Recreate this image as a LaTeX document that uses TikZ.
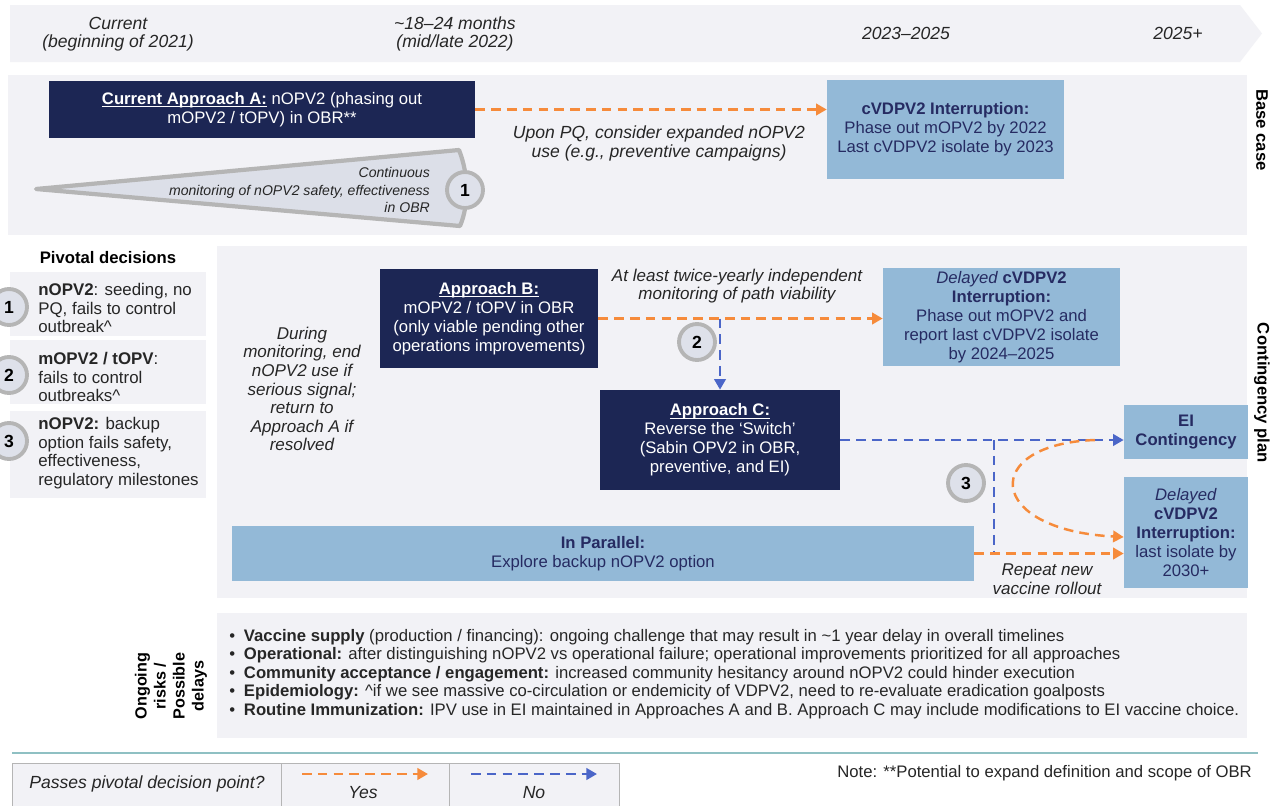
\documentclass[tikz,border=0pt]{standalone}
\usepackage{fontspec}
\setmainfont{Liberation Sans}
\usetikzlibrary{arrows.meta, positioning, calc}
\definecolor{pvNavy}{HTML}{1C2654}
\definecolor{pvSky}{HTML}{93B9D7}
\definecolor{pvInk}{HTML}{262B62}
\definecolor{pvOrange}{HTML}{F68B3B}
\definecolor{pvBlue}{HTML}{4B66C8}
\definecolor{pvPanel}{HTML}{F2F2F6}
\definecolor{pvRing}{HTML}{B5B5B5}
\definecolor{pvDisc}{HTML}{DEE1EA}
\definecolor{pvWedge}{HTML}{DCDFE8}
\definecolor{pvTeal}{HTML}{8FC0C3}
\newcommand{\pvul}[1]{\setbox0\hbox{#1}\rlap{\rule[-1.7pt]{\wd0}{0.6pt}}\box0\relax}

\begin{document}
\begin{tikzpicture}[x=0.02cm, y=-0.02cm,
  navybox/.style={fill=pvNavy, text=white, align=center, inner sep=0pt, font=\fontsize{9.5}{10.8}\selectfont},
  skybox/.style={fill=pvSky, text=pvInk, align=center, inner sep=0pt, font=\fontsize{9.5}{10.8}\selectfont},
  remark/.style={align=center, text=black!85, font=\fontsize{9.7}{10.6}\selectfont\itshape},
  milestone/.style={align=center, text=black!85, font=\fontsize{10}{10.4}\selectfont\itshape},
  pvdisc/.style={circle, fill=pvDisc, draw=pvRing, line width=2.2pt, minimum size=0.72cm, inner sep=0pt, font=\fontsize{10}{12}\selectfont\bfseries},
  yesline/.style={pvOrange, line width=1.4pt, dash pattern=on 5.5pt off 3.5pt, -{Triangle[length=6pt,width=6.5pt]}},
  noline/.style={pvBlue, line width=1.4pt, dash pattern=on 5.5pt off 3.5pt, -{Triangle[length=6pt,width=6.5pt]}},
  sidetag/.style={align=center, text=black, font=\fontsize{9.5}{10.8}\selectfont\bfseries},
  decision/.style={anchor=west, align=left, inner sep=0pt, text=black!85, font=\fontsize{9.6}{10.6}\selectfont}
]
  % ramka
  \useasboundingbox (0,0) rectangle (1284,805);
  \clip (0,0) rectangle (1284,805);
  \fill[white] (0,0) rectangle (1284,805);
  % os czasu
  \fill[pvPanel] (10,5) -- (1240,5) -- (1262,33.5) -- (1240,62) -- (10,62) -- cycle;
  \node[milestone] (t1) at (118,34) {Current\\(beginning of 2021)};
  \node[milestone] (t2) at (455,34) {\textasciitilde18–24 months\\(mid/late 2022)};
  \node[milestone] (t3) at (906,33) {2023–2025};
  \node[milestone] (t4) at (1178,33) {2025+};
  % panel bazowy
  \fill[pvPanel] (8,75) rectangle (1247,235);
  \node[sidetag, rotate=-90] (tagBase) at (1262,130) {Base case};
  \node[navybox, minimum width=8.52cm, minimum height=1.14cm] (appA) at (262,109.5)
    {\pvul{\textbf{Current Approach A:}} nOPV2 (phasing out\\mOPV2 / tOPV) in OBR**};
  \node[skybox, minimum width=4.74cm, minimum height=1.98cm] (interA) at (945.5,129.5)
    {\textbf{cVDPV2 Interruption:}\\Phase out mOPV2 by 2022\\Last cVDPV2 isolate by 2023};
  \draw[yesline] (appA.east) -- (appA.east -| interA.west);
  \node[remark, font=\fontsize{10}{10.8}\selectfont\itshape] (pq) at (659,143.5)
    {Upon PQ, consider expanded nOPV2\\use (e.g., preventive campaigns)};
  % klin monitoringu
  \filldraw[fill=pvWedge, draw=pvRing, line width=2.4pt, line join=round]
    (36,189) -- (459,150) .. controls (469,175) and (469,205) .. (460,226) -- cycle;
  \node[anchor=east, align=right, text=black!85, font=\fontsize{8}{10}\selectfont\itshape] (mon) at (436,190)
    {Continuous\\monitoring of nOPV2 safety, effectiveness\\in OBR};
  \node[pvdisc] (dec1) at (465,190) {1};
  % decyzje kluczowe
  \node[sidetag, font=\fontsize{9.5}{11}\selectfont\bfseries] (pdHead) at (108,258) {Pivotal decisions};
  \fill[pvPanel] (10,272) rectangle (206,336);
  \fill[pvPanel] (10,340) rectangle (206,404);
  \fill[pvPanel] (10,411) rectangle (206,498);
  \node[decision] (pdText1) at (38,308) {\textbf{nOPV2}: seeding, no\\PQ, fails to control\\outbreak\textasciicircum};
  \node[decision] (pdText2) at (38,377) {\textbf{mOPV2 / tOPV}:\\fails to control\\outbreaks\textasciicircum};
  \node[decision] (pdText3) at (38,453) {\textbf{nOPV2:} backup\\option fails safety,\\effectiveness,\\regulatory milestones};
  \node[pvdisc] (pd1) at (9,307) {1};
  \node[pvdisc] (pd2) at (9,375) {2};
  \node[pvdisc] (pd3) at (9,441) {3};
  % plan awaryjny
  \fill[pvPanel] (217,246) rectangle (1247,598);
  \node[sidetag, rotate=-90] (tagCont) at (1262,393) {Contingency plan};
  \node[remark] (during) at (302,389)
    {During\\monitoring, end\\nOPV2 use if\\serious signal;\\return to\\Approach A if\\resolved};
  \node[navybox, minimum width=4.36cm, minimum height=1.98cm] (appB) at (489,318.5)
    {\pvul{\textbf{Approach B:}}\\mOPV2 / tOPV in OBR\\(only viable pending other\\operations improvements)};
  \node[remark] (twice) at (737,286) {At least twice-yearly independent\\monitoring of path viability};
  \node[skybox, minimum width=4.74cm, minimum height=1.96cm] (delayB) at (1001.5,317)
    {\textit{Delayed} \textbf{cVDPV2}\\\textbf{Interruption:}\\Phase out mOPV2 and\\report last cVDPV2 isolate\\by 2024–2025};
  \node[navybox, minimum width=4.8cm, minimum height=2.0cm] (appC) at (720,440)
    {\pvul{\textbf{Approach C:}}\\Reverse the ‘Switch’\\(Sabin OPV2 in OBR,\\preventive, and EI)};
  \node[skybox, minimum width=2.48cm, minimum height=1.08cm] (eiCont) at (1186,432)
    {\textbf{EI}\\\textbf{Contingency}};
  \node[skybox, minimum width=2.48cm, minimum height=2.22cm] (delayC) at (1186,532.5)
    {\textit{Delayed}\\\textbf{cVDPV2}\\\textbf{Interruption:}\\last isolate by\\2030+};
  \node[skybox, minimum width=14.84cm, minimum height=1.1cm] (parallel) at (603,553.5)
    {\textbf{In Parallel:}\\Explore backup nOPV2 option};
  \node[remark] (repeat) at (1047,579) {Repeat new\\vaccine rollout};
  % strzalki decyzji
  \draw[yesline] (appB.east) -- (appB.east -| delayB.west);
  \draw[noline] (appB.east -| appC.north) -- (appC.north);
  \node[pvdisc] (dec2) at (697,342) {2};
  \coordinate (split3) at (994,440);
  \coordinate (fork3) at (1095,440);
  \draw[noline] (appC.east) -- (appC.east -| eiCont.west);
  \draw[noline, -] (split3) -- (split3 |- parallel.east);
  \draw[yesline] (parallel.east) -- (parallel.east -| delayC.west);
  \draw[yesline] (fork3) .. controls (980,444) and (985,530) .. ($(delayC.west)+(0,4.5)$);
  \node[pvdisc] (dec3) at (966,483) {3};
  % ryzyka
  \fill[pvPanel] (217,613) rectangle (1247,738);
  \node[sidetag, rotate=90, font=\fontsize{9.2}{10.8}\selectfont\bfseries] (tagRisk) at (171,686) {Ongoing\\risks /\\Possible\\delays};
  \node[anchor=west, align=left, inner sep=0pt, text=black!85, font=\fontsize{9.5}{10.5}\selectfont] (risks) at (229,674) {%
    \textbullet\hspace{5pt}\textbf{Vaccine supply} (production / financing): ongoing challenge that may result in \textasciitilde1 year delay in overall timelines\\
    \textbullet\hspace{5pt}\textbf{Operational:} after distinguishing nOPV2 vs operational failure; operational improvements prioritized for all approaches\\
    \textbullet\hspace{5pt}\textbf{Community acceptance / engagement:} increased community hesitancy around nOPV2 could hinder execution\\
    \textbullet\hspace{5pt}\textbf{Epidemiology:} \textasciicircum if we see massive co-circulation or endemicity of VDPV2, need to re-evaluate eradication goalposts\\
    \textbullet\hspace{5pt}\textbf{Routine Immunization:} IPV use in EI maintained in Approaches A and B. Approach C may include modifications to EI vaccine choice.};
  % legenda
  \draw[pvTeal, line width=1.2pt] (12,753) -- (1258,753);
  \filldraw[fill=pvPanel, draw=pvRing] (12,763) rectangle (619,815);
  \draw[pvRing] (281,763) -- (281,815) (449,763) -- (449,815);
  \node[milestone] (legQ) at (147,784) {Passes pivotal decision point?};
  \coordinate (yesA) at (302,774);
  \coordinate (yesB) at (428,774);
  \coordinate (noA) at (471,774);
  \coordinate (noB) at (597,774);
  \draw[yesline] (yesA) -- (yesB);
  \draw[noline] (noA) -- (noB);
  \node[milestone] (legYes) at (363,793) {Yes};
  \node[milestone] (legNo) at (534,793) {No};
  \node[anchor=east, text=black!85, font=\fontsize{9.5}{10.8}\selectfont] (note) at (1258,773)
    {Note: **Potential to expand definition and scope of OBR};
\end{tikzpicture}
\end{document}
